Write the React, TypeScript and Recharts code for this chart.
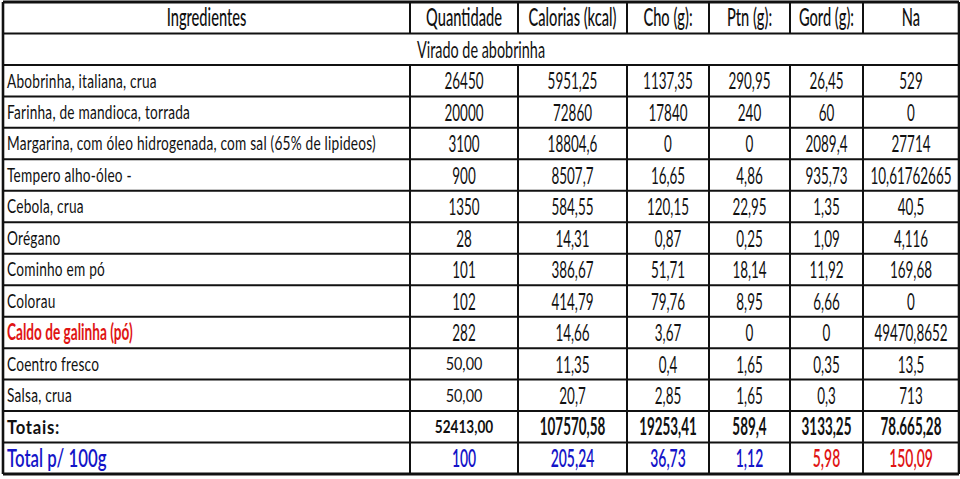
import { ReferenceLine, Scatter, ScatterChart, XAxis, YAxis } from "recharts";

const COLUMNS = ["Ingredientes", "Quantidade", "Calorias (kcal)", "Cho (g):", "Ptn (g):", "Gord (g):", "Na"];
const RECIPE = "Virado de abobrinha";

const ingredients = [
  "Abobrinha, italiana, crua",
  "Farinha, de mandioca, torrada",
  "Margarina, com óleo hidrogenada, com sal (65% de lipideos)",
  "Tempero alho-óleo -",
  "Cebola, crua",
  "Orégano",
  "Cominho em pó",
  "Colorau",
  "Caldo de galinha (pó)",
  "Coentro fresco",
  "Salsa, crua",
];
const quantidade = ["26450", "20000", "3100", "900", "1350", "28", "101", "102", "282", "50,00", "50,00"];
const calorias = ["5951,25", "72860", "18804,6", "8507,7", "584,55", "14,31", "386,67", "414,79", "14,66", "11,35", "20,7"];
const cho = ["1137,35", "17840", "0", "16,65", "120,15", "0,87", "51,71", "79,76", "3,67", "0,4", "2,85"];
const ptn = ["290,95", "240", "0", "4,86", "22,95", "0,25", "18,14", "8,95", "0", "1,65", "1,65"];
const gord = ["26,45", "60", "2089,4", "935,73", "1,35", "1,09", "11,92", "6,66", "0", "0,35", "0,3"];
const na = ["529", "0", "27714", "10,61762665", "40,5", "4,116", "169,68", "0", "49470,8652", "13,5", "713"];

const totaisLabel = "Totais:";
const totais = ["52413,00", "107570,58", "19253,41", "589,4", "3133,25", "78.665,28"];
const per100Label = "Total p/ 100g";
const per100 = ["100", "205,24", "36,73", "1,12", "5,98", "150,09"];

// layout (pixel units of the x axis, row units of the y axis)
const EDGES = [3, 410, 518, 627, 709, 790, 863, 959];
const ROWS = 15;
const BLUE = "#1414c8";
const RED = "#e01414";
const FONT = "Lato, 'Open Sans', sans-serif";

interface Cell {
  x: number;
  y: number;
  text: string;
  anchor: "start" | "middle";
  size: number;
  weight: number;
  color: string;
  sx: number;
  ls: number;
}

const center = (c: number) => (EDGES[c] + EDGES[c + 1]) / 2;

function buildCells(): Cell[] {
  const cells: Cell[] = [];
  const num = (c: number, row: number, text: string, extra: Partial<Cell> = {}) =>
    cells.push({ x: center(c), y: row + 0.5, text, anchor: "middle", size: 24, weight: 400, color: "#111", sx: 0.56, ls: 0, ...extra });
  const name = (row: number, text: string, extra: Partial<Cell> = {}) =>
    cells.push({ x: EDGES[0] + 4, y: row + 0.5, text, anchor: "start", size: 19, weight: 400, color: "#111", sx: 0.72, ls: 0.3, ...extra });

  COLUMNS.forEach((h, c) => num(c, 0, h, { weight: 500, sx: 0.61 }));
  cells.push({ x: (EDGES[0] + EDGES[7]) / 2, y: 1.5, text: RECIPE, anchor: "middle", size: 24, weight: 400, color: "#111", sx: 0.6, ls: 0 });

  const cols = [quantidade, calorias, cho, ptn, gord, na];
  ingredients.forEach((ing, i) => {
    const row = i + 2;
    if (ing.startsWith("Caldo")) name(row, ing, { size: 22, weight: 700, color: RED, sx: 0.62, ls: 0 });
    else name(row, ing);
    cols.forEach((col, c) => {
      const small = c === 0 && col[i].includes(",");
      num(c + 1, row, col[i], small ? { size: 18, sx: 0.8 } : {});
    });
  });

  const tRow = ingredients.length + 2;
  name(tRow, totaisLabel, { size: 19, weight: 700, sx: 0.88, ls: 0.8 });
  totais.forEach((v, c) =>
    num(c + 1, tRow, v, c === 0 ? { size: 17, weight: 700, sx: 0.8 } : { weight: 700, sx: 0.56 })
  );

  const pRow = tRow + 1;
  name(pRow, per100Label, { size: 24, weight: 600, color: BLUE, sx: 0.7, ls: 0 });
  per100.forEach((v, c) => num(c + 1, pRow, v, { weight: 600, color: c >= 4 ? RED : BLUE, sx: 0.58 }));
  return cells;
}

const cells = buildCells();

function CellText(props: any) {
  const { cx, cy, payload } = props;
  const p = payload as Cell;
  return (
    <text
      transform={`translate(${cx},${cy + p.size * 0.36}) scale(${p.sx},1)`}
      textAnchor={p.anchor}
      fontFamily={FONT}
      fontSize={p.size}
      fontWeight={p.weight}
      letterSpacing={p.ls}
      fill={p.color}
    >
      {p.text}
    </text>
  );
}

const line = { stroke: "#111", strokeWidth: 2, ifOverflow: "visible" as const };

export default function App() {
  const rowLines = Array.from({ length: ROWS + 1 }, (_, i) => i);
  const inner = EDGES.slice(1, -1);
  return (
    <div style={{ position: "absolute", left: 0, top: 0, background: "#fff" }}>
      <ScatterChart width={960} height={479} margin={{ top: 2, right: 0, bottom: 5, left: 0 }}>
        <XAxis type="number" dataKey="x" domain={[0, 960]} hide />
        <YAxis type="number" dataKey="y" domain={[0, ROWS]} reversed hide />
        {rowLines.map((r) => (
          <ReferenceLine
            key={`h${r}`}
            segment={[{ x: EDGES[0], y: r }, { x: EDGES[7], y: r }]}
            {...line}
            strokeWidth={r === 0 || r === ROWS ? 2.8 : 2}
          />
        ))}
        {[EDGES[0], EDGES[7]].map((x) => (
          <ReferenceLine key={`o${x}`} segment={[{ x, y: 0 }, { x, y: ROWS }]} {...line} strokeWidth={2.6} />
        ))}
        {inner.map((x) => (
          <ReferenceLine key={`a${x}`} segment={[{ x, y: 0 }, { x, y: 1 }]} {...line} />
        ))}
        {inner.map((x) => (
          <ReferenceLine key={`b${x}`} segment={[{ x, y: 2 }, { x, y: ROWS }]} {...line} />
        ))}
        <Scatter data={cells} shape={CellText} isAnimationActive={false} />
      </ScatterChart>
    </div>
  );
}
